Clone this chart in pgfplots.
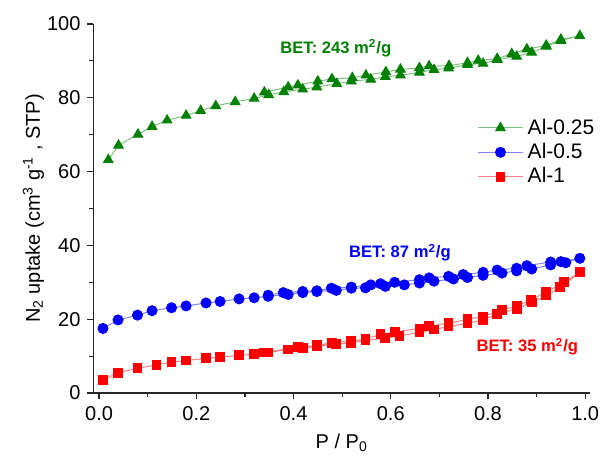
\documentclass[border=0pt]{standalone}
\usepackage{fontspec}
\setmainfont{Liberation Sans}
\usepackage{pgfplots}
\pgfplotsset{compat=1.18}
\definecolor{ogreen}{HTML}{008000}
\definecolor{oblue}{HTML}{0000FF}
\definecolor{ored}{HTML}{FF0000}
\definecolor{lgreen}{HTML}{7FC07F}
\definecolor{lblue}{HTML}{8080FF}
\definecolor{lred}{HTML}{FF8080}

\begin{document}
\begin{tikzpicture}
\begin{axis}[
  scale only axis,
  width=248.25pt, height=184.5pt,
  xmin=-0.0115, xmax=1.01,
  ymin=0, ymax=100,
  axis x line*=bottom, axis y line*=left,
  axis line style={line width=0.7pt, black!85},
  tick align=outside,
  xtick={0,0.2,...,1.0}, minor xtick={0.1,0.3,...,0.9},
  ytick={0,20,...,100}, minor ytick={10,30,...,90},
  major tick length=3pt, minor tick length=2pt,
  tick style={line width=0.6pt, black!85},
  xticklabel style={/pgf/number format/.cd, fixed, fixed zerofill, precision=1},
  /pgf/number format/assume math mode=true,
  tick label style={font=\fontsize{10}{12}\selectfont},
  label style={font=\fontsize{10}{12}\selectfont},
  xlabel={P / P\textsubscript{0}},
  ylabel={N\textsubscript{2} uptake (cm\textsuperscript{3} g\textsuperscript{-1} , STP)},
  xlabel style={at={(rel axis cs:0.5,0)}, anchor=center, yshift=-25pt},
  ylabel style={at={(rel axis cs:0,0.5)}, anchor=center, yshift=30pt},
  clip=false,
  legend style={draw=none, fill=none, at={(rel axis cs:0.772,0.755)}, anchor=north west,
    font=\fontsize{10.5}{12}\selectfont, row sep=-0.9pt, inner sep=0pt},
  legend cell align=left,
  legend image code/.code={\draw[#1,mark repeat=2,mark phase=2] plot coordinates {(0cm,0cm)(0.4cm,0cm)(0.8cm,0cm)};},
]
\addplot[lgreen, line width=0.5pt, mark=triangle*, mark size=2.7pt, mark options={draw=ogreen, fill=ogreen}] coordinates {
(0.019,63.2)(0.040,67.1)(0.080,70.1)(0.109,72.2)(0.140,73.9)(0.179,75.2)(0.209,76.5)(0.240,77.8)
(0.280,78.9)(0.319,79.8)(0.349,80.8)(0.380,81.6)(0.419,82.3)(0.448,82.9)(0.489,83.8)(0.519,84.5)
(0.559,85.0)(0.589,85.7)(0.620,86.1)(0.659,86.9)(0.689,87.6)(0.719,88.0)(0.758,89.0)(0.790,89.3)
(0.819,90.3)(0.859,91.2)(0.890,92.3)(0.920,93.9)(0.950,95.5)(0.989,96.8)
(0.950,95.8)(0.920,94.2)(0.880,93.2)(0.849,91.9)(0.819,90.6)(0.780,90.1)(0.758,89.5)(0.720,88.7)
(0.679,88.6)(0.659,88.1)(0.620,87.7)(0.590,87.0)(0.549,86.1)(0.521,85.4)(0.479,85.1)(0.450,84.5)
(0.409,83.4)(0.389,82.9)(0.340,81.5)
};
\addplot[lblue, line width=0.5pt, mark=*, mark size=2.5pt, mark options={draw=oblue, fill=oblue}] coordinates {
(0.008,17.5)(0.039,19.8)(0.079,21.1)(0.109,22.3)(0.149,23.1)(0.179,23.6)(0.220,24.4)(0.249,24.8)
(0.288,25.5)(0.319,25.8)(0.348,26.2)(0.389,26.7)(0.419,27.2)(0.448,27.5)(0.488,27.8)(0.519,28.4)
(0.548,28.5)(0.589,28.9)(0.628,29.3)(0.659,29.8)(0.689,30.3)(0.729,30.9)(0.758,31.3)(0.790,31.9)
(0.829,32.5)(0.859,33.1)(0.890,33.6)(0.929,34.7)(0.960,35.3)(0.989,36.5)
(0.950,35.6)(0.929,35.5)(0.880,34.5)(0.859,33.8)(0.819,33.3)(0.790,32.7)(0.749,32.1)(0.719,31.6)
(0.679,31.2)(0.659,30.7)(0.608,30.0)(0.579,29.6)(0.559,29.3)(0.519,28.7)(0.478,28.4)(0.448,27.7)
(0.419,27.5)(0.379,27.2)(0.348,26.5)
};
\addplot[lred, line width=0.5pt, mark=square*, mark size=2.2pt, mark options={draw=ored, fill=ored}] coordinates {
(0.008,3.5)(0.039,5.5)(0.079,6.7)(0.118,7.6)(0.149,8.4)(0.179,8.8)(0.220,9.4)(0.249,9.7)
(0.288,10.2)(0.319,10.5)(0.348,11.0)(0.389,11.8)(0.419,12.1)(0.448,12.7)(0.488,13.2)(0.519,13.6)
(0.548,14.3)(0.589,14.8)(0.618,15.5)(0.659,16.4)(0.689,17.2)(0.719,18.0)(0.758,18.9)(0.790,19.8)
(0.819,21.4)(0.859,22.8)(0.890,24.5)(0.919,26.4)(0.949,28.7)(0.989,32.7)
(0.957,30.0)(0.919,27.3)(0.889,25.3)(0.859,23.5)(0.829,22.5)(0.790,20.7)(0.758,20.0)(0.719,18.9)
(0.679,18.1)(0.659,17.5)(0.608,16.5)(0.579,15.9)(0.548,14.6)(0.519,14.1)(0.479,13.6)(0.448,12.9)
(0.409,12.4)(0.340,11.0)
};
\legend{Al-0.25, Al-0.5, Al-1}
\node[font=\bfseries\fontsize{8.3}{10}\selectfont, text=ogreen] at (axis cs:0.487,93.5) {BET: 243 m\textsuperscript{2}/g};
\node[font=\bfseries\fontsize{8.3}{10}\selectfont, text=oblue] at (axis cs:0.619,38.0) {BET: 87 m\textsuperscript{2}/g};
\node[font=\bfseries\fontsize{8.3}{10}\selectfont, text=ored] at (axis cs:0.881,12.5) {BET: 35 m\textsuperscript{2}/g};
\coordinate (bl) at (rel axis cs:-0.1883,-0.195);
\coordinate (tr) at (rel axis cs:1.0201,1.065);
\end{axis}
\pgfresetboundingbox
\useasboundingbox (bl) rectangle (tr);
\end{tikzpicture}
\end{document}
